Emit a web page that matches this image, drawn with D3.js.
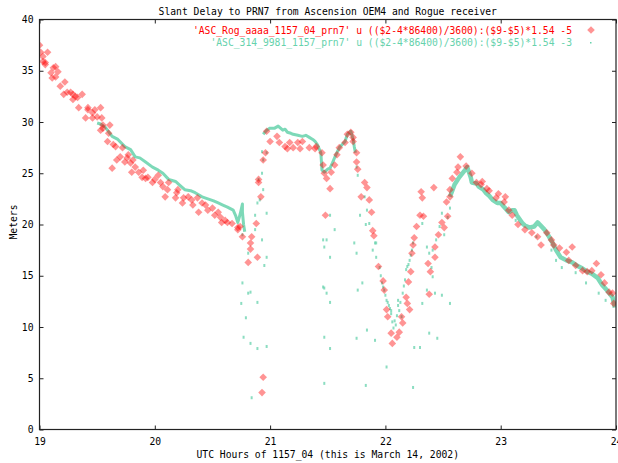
<!DOCTYPE html>
<html>
<head>
<meta charset="utf-8">
<script src="https://cdn.jsdelivr.net/npm/d3@7"></script>
<style>
  body { margin: 0; background: #fff; }
  svg { display: block; }
  text { font-family: "DejaVu Sans Mono", monospace; font-size: 9.7px; fill: #000; }
</style>
</head>
<body>
<script>
// values: [UTC hour, meters]
const xTicks = [19, 20, 21, 22, 23, 24];
const yTicks = [0, 5, 10, 15, 20, 25, 30, 35, 40];

const titleText = "Slant Delay to PRN7 from Ascension OEM4 and Rogue receiver";
const xLabel = "UTC Hours of 1157_04 (this is March 14, 2002)";
const yLabel = "Meters";
const redLabel = "'ASC_Rog_aaaa_1157_04_prn7' u (($2-4*86400)/3600):($9-$5)*1.54 -5";
const greenLabel = "'ASC_314_9981_1157_prn7' u (($2-4*86400)/3600):($9-$5)*1.54 -3";

// Rogue receiver (red diamonds)
const redEarly = [
  [19.00,37.5],[19.01,36.8],[19.07,36.8],[19.03,35.9],[19.05,35.6],[19.10,34.8],[19.14,35.4],[19.14,34.4],
  [19.03,36.4],[19.05,35.8],[19.12,35.3],[19.16,34.9],[19.11,34.3],[19.18,33.5],[19.22,33.9],[19.21,32.7],
  [19.27,32.9],[19.31,32.5],[19.37,32.7],[19.24,32.9],[19.29,32.2],[19.33,32.4],[19.29,32.7],[19.34,31.4],
  [19.42,31.2],[19.48,31.2],[19.53,31.4],[19.42,31.4],[19.46,30.9],[19.50,30.5],[19.40,30.4],[19.46,30.4],
  [19.54,30.4],[19.61,29.7],[19.55,29.7],[19.53,29.2],[19.55,29.4],[19.60,28.9],[19.59,28.1],[19.64,27.8],
  [19.66,27.6],[19.72,27.5],[19.67,26.3],[19.70,26.6],[19.63,25.5],[19.74,26.1],[19.77,26.8],[19.76,26.5],
  [19.79,26.0],[19.81,26.3],[19.83,25.6],[19.80,25.1],[19.86,25.1],[19.90,25.3],[19.89,24.6],[19.92,24.5],
  [19.94,24.6],[20.00,24.4],[19.98,24.1],[20.03,24.8],[20.05,24.1],[20.12,24.1],[20.07,23.7],[20.11,23.4],
  [20.19,23.1],[20.20,23.4],[20.09,22.7],[20.18,22.6],[20.25,22.6],[20.29,22.7],[20.32,22.4],[20.37,22.6],
  [20.24,22.1],[20.33,21.9],[20.41,22.1],[20.44,21.9],[20.38,21.2],[20.46,21.4],[20.50,21.6],[20.52,20.9],
  [20.55,21.2],[20.57,20.7],[20.58,20.2],[20.61,20.4],[20.63,20.2],[20.67,20.1],[20.72,19.5],[20.74,19.8],
  [20.72,19.7]
];
const redMiddle = [
  [20.76,18.8],[20.84,18.8],[20.83,18.2],[20.83,17.6],[20.89,16.8],[20.81,16.3],[20.94,5.1],[20.93,3.6],
  [20.88,20.1],[20.92,22.7],[20.90,24.1],[20.90,24.4],[20.94,26.3],[20.96,27.0],[20.97,29.1],[21.00,28.1],
  [21.06,28.6],[21.08,28.0],[21.13,27.6],[21.15,27.4],[21.17,28.0],[21.20,27.5],[21.26,27.4],[21.24,28.0],
  [21.28,28.1],[21.34,27.5],[21.39,27.4],[21.40,27.6],[21.45,27.0],[21.46,25.8],[21.47,25.0],[21.49,24.5],
  [21.52,23.5],[21.48,20.9],[21.53,25.1],[21.56,25.8],[21.58,26.8],[21.60,27.5],[21.65,28.0],[21.67,28.8],
  [21.70,29.0],[21.72,28.5],[21.72,28.1],[21.75,27.0],[21.75,26.1],[21.76,25.4],[21.82,24.1],[21.84,23.6],
  [21.79,22.7],[21.86,22.4],[21.88,21.2],[21.89,19.4],[21.90,18.9],[21.94,15.9],[21.98,14.5],[21.99,13.6],
  [22.01,11.7],[22.02,11.0],[22.05,9.4],[22.06,8.4],[22.10,9.0],[22.12,9.5],[22.15,10.4],[22.14,11.0],
  [22.19,12.3],[22.21,11.7],[22.18,12.9],[22.20,14.4],[22.22,15.4],[22.23,17.2],[22.24,18.0],[22.25,18.7],
  [22.27,19.8],[22.30,20.9],[22.31,23.2],[22.32,22.6],[22.33,20.8]
];
const redLate = [
  [22.38,13.2],[22.39,15.4],[22.37,16.2],[22.43,16.8],[22.43,17.8],[22.46,19.0],[22.49,20.2],[22.51,19.7],
  [22.54,20.8],[22.53,22.2],[22.56,22.7],[22.56,23.4],[22.58,24.5],[22.42,23.6],[22.65,26.6],[22.63,25.6],
  [22.62,25.1],[22.70,25.7],[22.75,25.0],[22.79,24.1],[22.84,24.2],[22.83,23.9],[22.88,23.5],[22.90,23.3],
  [22.98,23.0],[23.04,22.7],[23.03,22.2],[22.96,22.6],[23.07,21.4],[23.10,20.9],[23.15,20.0],[23.21,19.5],
  [23.27,19.2],[23.32,18.8],[23.35,18.0],[23.40,19.2],[23.44,18.5],[23.46,18.0],[23.51,17.7],[23.57,17.3],
  [23.62,17.8],[23.59,16.5],[23.65,16.0],[23.71,15.5],[23.75,15.4],[23.83,16.2],[23.79,15.5],[23.87,15.1],
  [23.90,14.3],[23.94,13.4],[23.97,13.3],[23.98,12.3]
];

// Ascension OEM4 receiver (green dots): dense bands and scattered dots
const greenBandA = [
  [19.50,29.9],[19.53,29.8],[19.57,29.5],[19.63,28.6],[19.68,28.3],[19.74,27.6],[19.79,27.3],[19.83,26.6],
  [19.87,26.5],[19.92,26.1],[19.98,25.6],[20.03,25.3],[20.07,25.0],[20.12,24.4],[20.18,24.2],[20.22,23.8],
  [20.26,23.4],[20.31,23.3],[20.35,23.1],[20.41,22.7],[20.46,22.5],[20.51,22.3],[20.55,22.1],[20.59,21.9],
  [20.63,21.7],[20.68,21.4],[20.70,20.9],[20.72,20.2],[20.74,21.0],[20.76,22.0],[20.76,21.2],[20.77,20.0],
  [20.78,19.3]
];
const greenBandB = [
  [20.94,28.8],[20.97,29.2],[21.00,29.4],[21.04,29.4],[21.07,29.6],[21.09,29.4],[21.11,29.2],[21.13,29.3],
  [21.15,29.0],[21.18,28.9],[21.20,28.8],[21.24,28.7],[21.28,28.6],[21.31,28.7],[21.34,28.5],[21.37,28.3],
  [21.39,28.1],[21.41,27.8],[21.44,27.0],[21.45,25.3],[21.47,25.1],[21.50,25.4],[21.52,25.5],[21.54,26.0],
  [21.57,26.8],[21.60,27.5],[21.65,28.1],[21.67,28.8],[21.70,29.1],[21.72,28.3],[21.73,27.6],[21.74,27.0]
];
const greenValley = [
  [21.95,15.8],[21.97,14.3],[22.01,12.6],[22.03,12.1],[22.05,11.3],[22.06,10.5],[22.07,9.9],[22.09,10.2],
  [22.10,11.1],[22.12,11.6],[22.14,11.0],[22.15,13.3],[22.17,14.6],[22.18,15.6],[22.21,16.5],[22.23,17.5],
  [22.24,18.2],[21.96,15.0],[21.98,13.9],[22.00,13.1],[22.02,12.4],[22.04,11.8],[22.08,10.6],[22.11,12.1],
  [22.13,12.4],[22.16,14.0],[22.19,15.9],[22.20,16.1],[22.22,17.0]
];
const greenBandC = [
  [22.56,22.7],[22.60,23.9],[22.64,24.6],[22.69,25.3],[22.71,25.6],[22.74,24.6],[22.75,24.1],[22.79,24.0],
  [22.81,23.7],[22.85,23.4],[22.87,23.1],[22.90,22.8],[22.93,22.4],[22.97,22.1],[23.00,22.1],[23.03,21.7],
  [23.07,21.2],[23.10,21.4],[23.12,21.4],[23.14,20.9],[23.19,20.1],[23.21,19.9],[23.25,19.7],[23.29,19.8],
  [23.32,20.2],[23.33,20.1],[23.38,19.5],[23.42,18.8],[23.45,18.2],[23.48,17.5],[23.52,16.8],[23.57,16.5],
  [23.62,16.3],[23.66,16.0],[23.71,15.7],[23.75,15.4],[23.79,15.2],[23.84,14.8],[23.88,14.1],[23.92,13.6],
  [23.97,12.9],[23.99,11.9]
];
const greenScatter = [
  [20.93,27.1],[20.94,26.3],[20.97,27.0],[20.93,25.0],[20.94,23.4],[20.89,22.1],[20.97,21.1],[20.76,14.3],
  [20.83,13.4],[20.89,12.4],[20.95,16.0],[21.49,18.5],[21.47,17.8],[21.52,16.8],[21.46,13.9],[21.49,13.3],
  [21.73,18.2],[21.75,17.2],[21.89,17.5],[21.92,18.2],[20.76,19.0],[20.81,17.2],[20.97,16.8],[20.81,13.3],
  [20.77,9.0],[20.83,8.4],[20.89,7.9],[20.97,8.1],[20.84,3.1],[21.46,18.5],[21.47,13.8],[21.52,12.4],
  [21.47,9.0],[21.52,7.9],[21.47,4.5],[21.76,13.6],[21.80,14.3],[21.75,8.9],[21.84,9.7],[21.91,8.7],
  [22.01,6.1],[21.83,4.3],[22.25,8.0],[22.30,8.0],[22.24,4.1],[22.32,12.3],[22.36,13.6],[22.32,20.1],
  [22.36,17.8],[22.41,17.5],[22.43,13.3],[22.49,13.1],[22.56,12.3],[22.38,9.4],[22.45,8.9],[20.75,12.3],
  [20.79,10.9],[20.93,18.5],[20.87,19.5],[21.52,20.9],[21.56,19.5],[21.78,20.9],[21.83,20.0],[20.90,24.4],
  [20.87,20.9],[20.91,22.4],[21.75,25.6],[21.76,24.8],[21.82,22.7],[21.84,21.4],[21.86,20.1],[21.91,18.2],
  [21.92,16.8],[21.99,13.6],[22.38,17.2],[22.40,15.8],[22.41,14.9],[22.47,19.8],[22.49,21.1],[22.54,20.7],
  [22.56,21.6],[22.51,19.0],[22.44,18.5],[23.53,15.8],[23.65,15.3],[23.74,14.3],[23.85,13.3],[23.91,12.6],
  [23.48,16.5],[23.13,20.4],[23.31,18.8],[23.44,17.5],[22.05,11.6],[22.11,12.6]
];

const width = 618, height = 463;
const margin = {top: 19.5, right: 2, bottom: 33.5, left: 39.5};
const redColor = "#ff0000";
const greenColor = "#66d2ac";

const svg = d3.select("body").append("svg")
  .attr("width", width)
  .attr("height", height);

const x = d3.scaleLinear().domain([19, 24]).range([margin.left, width - margin.right]);
const y = d3.scaleLinear().domain([0, 40]).range([height - margin.bottom, margin.top]);

// plot marks, clipped to the frame
svg.append("clipPath").attr("id", "frame")
  .append("rect")
  .attr("x", margin.left).attr("y", margin.top)
  .attr("width", x(24) - x(19)).attr("height", y(0) - y(40));

const plot = svg.append("g").attr("clip-path", "url(#frame)");

const line = d3.line().x(d => x(d[0])).y(d => y(d[1]));

// green bands (dense runs of dots)
[[greenBandA, 3], [greenBandB, 3], [greenBandC, 4.5]].forEach(([band, w]) => {
  plot.append("path")
    .datum(band)
    .attr("fill", "none")
    .attr("stroke", greenColor)
    .attr("stroke-width", w)
    .attr("stroke-linejoin", "round")
    .attr("opacity", 0.85)
    .attr("d", line);
});

plot.append("g").selectAll("rect")
  .data(greenScatter.concat(greenValley))
  .enter()
  .append("rect")
  .attr("x", d => x(d[0]) - 1)
  .attr("y", d => y(d[1]) - 1.5)
  .attr("width", 2)
  .attr("height", 3)
  .attr("fill", greenColor)
  .attr("opacity", 0.75);

// red diamonds
const diamond = "M0,-3.8L3.8,0L0,3.8L-3.8,0Z";
plot.append("g").selectAll("path")
  .data(redEarly.concat(redMiddle, redLate))
  .enter()
  .append("path")
  .attr("d", diamond)
  .attr("transform", d => `translate(${x(d[0])},${y(d[1])})`)
  .attr("fill", redColor)
  .attr("fill-opacity", 0.42);

// axes, gnuplot style: ticks inside on all four sides
const tick = 4;
svg.append("g")
  .attr("transform", `translate(0,${y(0)})`)
  .call(d3.axisBottom(x).tickValues(xTicks).tickSize(-tick).tickPadding(9).tickFormat(d3.format("d")));
svg.append("g")
  .attr("transform", `translate(0,${y(40)})`)
  .call(d3.axisTop(x).tickValues(xTicks).tickSize(-tick).tickFormat(""));
svg.append("g")
  .attr("transform", `translate(${x(19)},0)`)
  .call(d3.axisLeft(y).tickValues(yTicks).tickSize(-tick).tickPadding(6).tickFormat(d3.format("d")));
svg.append("g")
  .attr("transform", `translate(${x(24)},0)`)
  .call(d3.axisRight(y).tickValues(yTicks).tickSize(-tick).tickFormat(""));

svg.selectAll(".domain").remove();
svg.selectAll(".tick line").attr("stroke", "#222");
svg.selectAll(".tick text").attr("font-family", null).attr("font-size", null).attr("fill", "#111");

svg.append("rect")
  .attr("x", x(19)).attr("y", y(40))
  .attr("width", x(24) - x(19)).attr("height", y(0) - y(40))
  .attr("fill", "none")
  .attr("stroke", "#222")
  .attr("stroke-width", 1.2);

// titles
const midX = (x(19) + x(24)) / 2;
svg.append("text").attr("x", midX).attr("y", 15).attr("text-anchor", "middle").text(titleText);
svg.append("text").attr("x", midX).attr("y", 458).attr("text-anchor", "middle").text(xLabel);
svg.append("text")
  .attr("transform", `translate(17,222) rotate(-90)`)
  .attr("text-anchor", "middle")
  .text(yLabel);

// legend
svg.append("text").attr("x", 572).attr("y", 33.5).attr("text-anchor", "end")
  .style("fill", redColor).text(redLabel);
svg.append("text").attr("x", 572).attr("y", 46).attr("text-anchor", "end")
  .style("fill", greenColor).text(greenLabel);
svg.append("path").attr("d", diamond).attr("transform", "translate(591,30)")
  .attr("fill", redColor).attr("fill-opacity", 0.42);
svg.append("rect").attr("x", 590).attr("y", 42).attr("width", 1.5).attr("height", 1.5)
  .attr("fill", greenColor);
</script>
</body>
</html>
